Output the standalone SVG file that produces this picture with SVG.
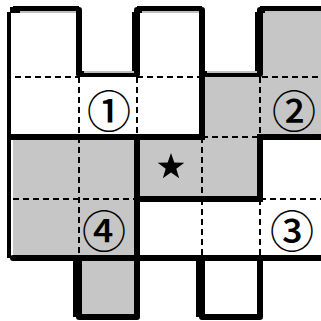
<svg xmlns="http://www.w3.org/2000/svg" width="321" height="321" viewBox="0 0 321 321">
<style>
.fill{fill:#c6c6c6}
.thick{fill:none;stroke:#000;stroke-width:6;stroke-linejoin:round;stroke-linecap:square}
.dash{fill:none;stroke:#000;stroke-width:2;stroke-dasharray:6 4}
.hl{fill:none;stroke:#fff;stroke-width:1.5}
.num{font-family:"Noto Sans CJK JP","DejaVu Sans",sans-serif;font-size:44px;font-weight:500;text-anchor:middle;dominant-baseline:central;fill:#000}
</style>
<rect width="321" height="321" fill="#fff"/>
<g id="region-1">
<text class="num" x="109" y="109">①</text>
</g>
<g id="region-2">
<path class="fill" d="M260,10 H321 V137 H260 V199 H137 V137 H202 V75 H260 Z"/>
<text class="num" x="294" y="109">②</text>
<polygon id="star" fill="#000" points="171,153 174.3,162.5 184.3,162.7 176.3,168.8 179.2,178.3 171,172.6 162.8,178.3 165.7,168.8 157.7,162.7 167.7,162.5"/>
</g>
<g id="region-4">
<path class="fill" d="M13,137 H137 V317 H79 V258 H13 Z"/>
<text class="num" x="104" y="229">④</text>
</g>
<g id="region-3">
<text class="num" x="292" y="229">③</text>
</g>
<g id="connectors">
<g class="dash">
<path d="M15,77 H79 M137,77 H202 M262,77 H321 M79,77 V137 M137,77 V137"/>
<path d="M260,77 V137 M202,137 H260 M202,137 V199"/>
<path d="M79,137 V258 M13,199 H137 M79,258 H137"/>
<path d="M260,199 H321 M202,199 V258 M260,199 V258 M202,258 H260"/>
</g>
<path class="thick" d="M13,10 H79 V74 H137 V10 H202 V74 H260 V10 H321"/>
<path class="thick" d="M321,258 H260 V317 H202 V258 H137 V317 H79 V258 H13 Z"/>
<path class="thick" d="M13,137 H202 M260,137 H321 M202,74 V137 M137,137 V258 M137,199 H260 M260,137 V199"/>
<path fill="none" stroke="#000" stroke-width="4" d="M9,12 V258 M75,260 V317 M198,260 V317 M257,12 V74 M134,12 V74 M13,8 H79 M137,8 H202 M260,8 H321"/>
<path class="hl" d="M20,12 H76 M142,12 H199 M265,12 H321 M84,72 H134 M207,72 H257"/>
</g>
</svg>
